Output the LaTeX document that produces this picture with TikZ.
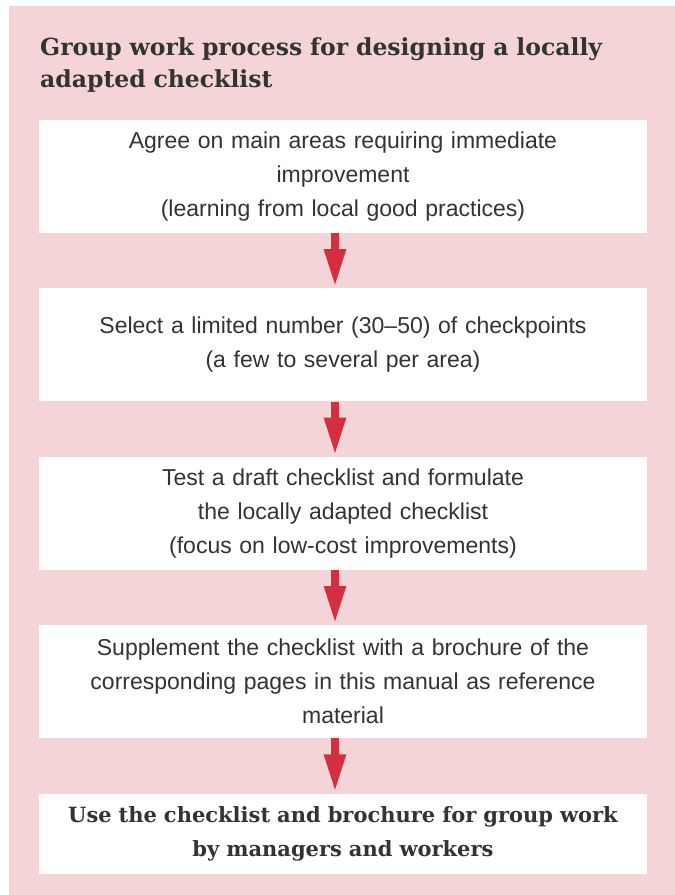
\documentclass[tikz,border=0pt]{standalone}
\usepackage{fontspec}
\setmainfont{Liberation Sans}
\newfontfamily\slabfont{DejaVu Serif}
\usetikzlibrary{positioning,arrows.meta}
\definecolor{panelpink}{HTML}{F5D4D7}
\definecolor{arrowred}{HTML}{D42F3F}
\definecolor{textgray}{HTML}{333333}

\begin{document}
\begin{tikzpicture}[x=1pt ,y=1pt ,node distance = 55pt ,stepbox/.style ={ rectangle ,fill=white ,text=textgray ,minimum width =608pt ,minimum height =113pt ,text width =600pt ,align=center ,inner sep=0pt ,font=\fontsize{23}{34}\selectfont} ,flow/.style ={ -{Triangle[width=20pt,length=38pt]} ,line width=8pt ,arrowred ,shorten >=1pt}]
\useasboundingbox (0,0) rectangle (675,-895);
\fill[panelpink] (9,-6) rectangle (675,-895);
\node[anchor=north west ,text width=620pt ,align=left ,inner sep=0pt ,text=textgray ,font=\slabfont\bfseries\fontsize{23.5}{32}\selectfont] (title) at (40,-37) {Group work process for designing a locally\\adapted checklist};
\node[stepbox] (agree) at (343,-176.5) {Agree on main areas requiring immediate\\improvement\\(learning from local good practices)};
\node[stepbox] (select) [below = of agree] {Select a limited number (30--50) of checkpoints\\(a few to several per area)};
\node[stepbox] (test) [below = of select] {Test a draft checklist and formulate\\the locally adapted checklist\\(focus on low-cost improvements)};
\node[stepbox] (supplement) [below = of test] {Supplement the checklist with a brochure of the\\corresponding pages in this manual as reference\\material};
\node[stepbox ,minimum height =80pt ,font=\slabfont\bfseries\fontsize{21}{34}\selectfont] (use) [below = of supplement] {Use the checklist and brochure for group work\\by managers and workers};
\draw[flow] ([xshift=-8pt]agree.south) -- ([xshift=-8pt]select.north);
\draw[flow] ([xshift=-8pt]select.south) -- ([xshift=-8pt]test.north);
\draw[flow] ([xshift=-8pt]test.south) -- ([xshift=-8pt]supplement.north);
\draw[flow] ([xshift=-8pt]supplement.south) -- ([xshift=-8pt]use.north);
\end{tikzpicture}
\end{document}
